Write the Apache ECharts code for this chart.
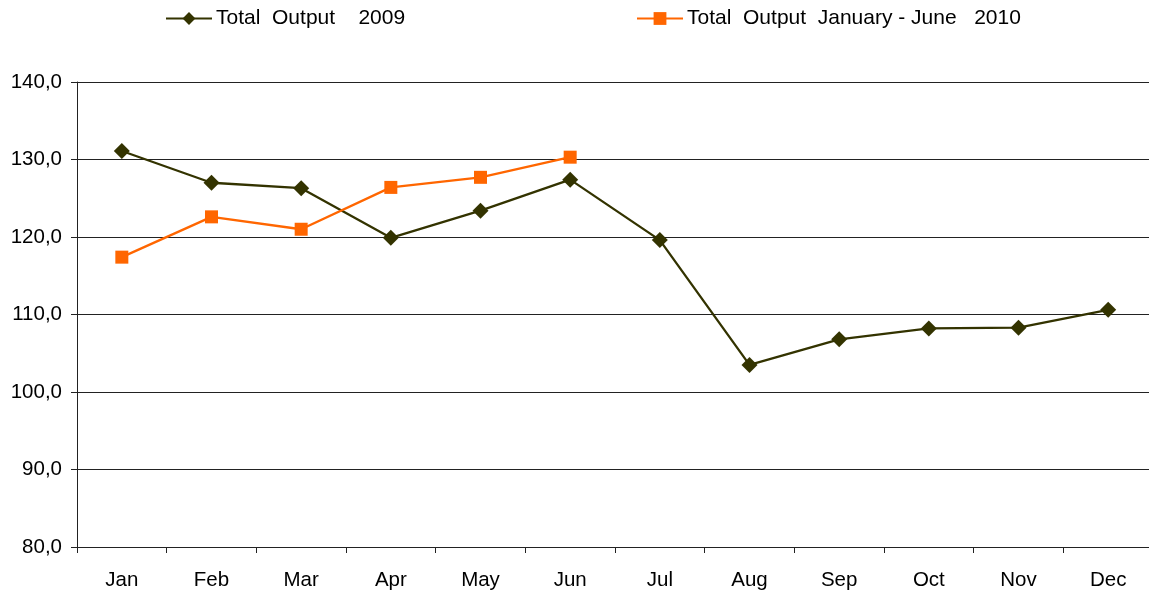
<!DOCTYPE html>
<html><head><meta charset="utf-8">
<script src="https://cdn.jsdelivr.net/npm/echarts@6/dist/echarts.min.js"></script>
<style>html,body{margin:0;padding:0;background:#fff;overflow:hidden}#c{width:1153px;height:593px}</style>
</head><body><div id="c"></div>
<script>
var months = ['Jan','Feb','Mar','Apr','May','Jun','Jul','Aug','Sep','Oct','Nov','Dec'];
var output2009 = [131.1,127.0,126.3,119.9,123.4,127.4,119.6,103.5,106.8,108.2,108.3,110.6];
var output2010 = [117.4,122.6,121.0,126.4,127.7,130.3];
var name2009 = 'Total  Output    2009';
var name2010 = 'Total  Output  January - June   2010';
var font = 'Liberation Sans, Arial, sans-serif';
var fs = 20.5;
var chart = echarts.init(document.getElementById('c'));
chart.setOption({
  animation:false,
  legend:[
    {data:[name2009], left:160, top:3, itemWidth:46, itemHeight:16, itemGap:0,
     textStyle:{fontFamily:font,fontSize:21,color:'#000',padding:[0,0,0,-1]}},
    {data:[name2010], left:631, top:3, itemWidth:46, itemHeight:16, itemGap:0,
     textStyle:{fontFamily:font,fontSize:21,color:'#000',padding:[0,0,0,-1]}}
  ],
  grid:{left:77, top:82, right:0, bottom:46, containLabel:false},
  xAxis:{type:'category', data:months, boundaryGap:true,
    axisLine:{lineStyle:{color:'#222',width:1}},
    axisTick:{show:true, length:6, lineStyle:{color:'#222'}},
    axisLabel:{fontFamily:font,fontSize:fs,color:'#000',margin:23}},
  yAxis:{type:'value', min:80, max:140, interval:10,
    axisLine:{show:true,lineStyle:{color:'#222',width:1}},
    axisTick:{show:true,length:6,lineStyle:{color:'#222'}},
    splitLine:{lineStyle:{color:'#222',width:1}},
    axisLabel:{fontFamily:font,fontSize:fs,color:'#000',margin:15,
      formatter:function(v){return v.toFixed(1).replace('.',',');}}},
  series:[
    {name:name2009, type:'line', data:output2009, symbol:'diamond', symbolSize:16,
     lineStyle:{color:'#333300',width:2.3}, itemStyle:{color:'#333300'}},
    {name:name2010, type:'line', data:output2010, symbol:'rect', symbolSize:13,
     lineStyle:{color:'#FF6600',width:2.3}, itemStyle:{color:'#FF6600'}}
  ]
});
</script></body></html>
